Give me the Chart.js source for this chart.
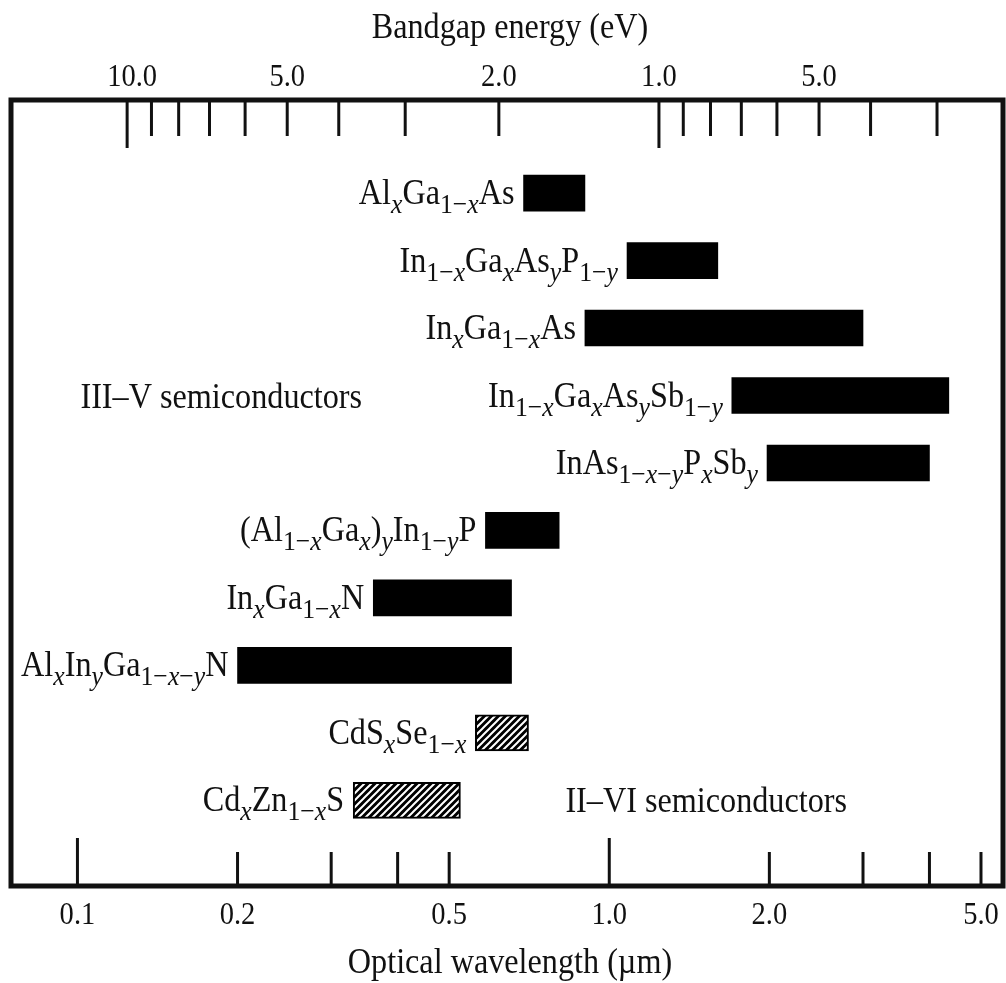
<!DOCTYPE html>
<html lang="en">
<head>
<meta charset="utf-8">
<title>Bandgap energy vs optical wavelength</title>
<script src="https://cdn.jsdelivr.net/npm/chart.js@4.4.1/dist/chart.umd.min.js"></script>
<style>
  html, body { margin: 0; padding: 0; background: #fff; }
  #wrap { width: 1006px; height: 983px; position: relative; }
</style>
</head>
<body>
<div id="wrap"><canvas id="bandgapChart"></canvas></div>
<script>
// --- Données ---
// "_{...}" = indice (x et y en italique)
const materials = [
    'Al_{x}Ga_{1−x}As',
    'In_{1−x}Ga_{x}As_{y}P_{1−y}',
    'In_{x}Ga_{1−x}As',
    'In_{1−x}Ga_{x}As_{y}Sb_{1−y}',
    'InAs_{1−x−y}P_{x}Sb_{y}',
    '(Al_{1−x}Ga_{x})_{y}In_{1−y}P',
    'In_{x}Ga_{1−x}N',
    'Al_{x}In_{y}Ga_{1−x−y}N',
    'CdS_{x}Se_{1−x}',
    'Cd_{x}Zn_{1−x}S'
];
const wavelengthStart = [0.69, 1.08, 0.90, 1.70, 1.98, 0.585, 0.36, 0.20, 0.56, 0.33];
const wavelengthEnd   = [0.90, 1.60, 3.00, 4.35, 4.00, 0.805, 0.655, 0.655, 0.705, 0.525];
const hatched = [false, false, false, false, false, false, false, false, true, true];

const wavelengthTicks = [0.1, 0.2, 0.3, 0.4, 0.5, 1, 2, 3, 4, 5];
const wavelengthLongTicks = [0.1, 1];
const wavelengthLabelValues = [0.1, 0.2, 0.5, 1, 2, 5];
const wavelengthTickLabels = ['0.1', '0.2', '0.5', '1.0', '2.0', '5.0'];

const energyTicks = [10, 9, 8, 7, 6, 5, 4, 3, 2, 1, 0.9, 0.8, 0.7, 0.6, 0.5, 0.4, 0.3];
const energyLongTicks = [10, 1];
const energyLabelValues = [10, 5, 2, 1, 0.5];
const energyTickLabels = ['10.0', '5.0', '2.0', '1.0', '5.0'];

const groupNames = ['III–V semiconductors', 'II–VI semiconductors'];
const groupWavelength = [0.1013, 0.827];
const groupRow = [3, 9];

// --- Constantes ---
const HC = 1.24;              // E (eV) = 1.24 / lambda (µm)
const LAMBDA_MIN = 0.075;
const LAMBDA_MAX = 5.5;
const INK = '#111';
const SERIF = '"Liberation Serif", "DejaVu Serif", serif';
const SQUEEZE = 0.92;         // police un peu condensée comme l'original

// Motif hachuré (II-VI)
function makeHatch() {
    const s = 7;
    const c = document.createElement('canvas');
    c.width = s; c.height = s;
    const g = c.getContext('2d');
    g.fillStyle = '#000';
    g.fillRect(0, 0, s, s);
    g.strokeStyle = '#fff';
    g.lineWidth = 2;
    g.beginPath();
    g.moveTo(-1, s + 1); g.lineTo(s + 1, -1);
    g.moveTo(-1, 1); g.lineTo(1, -1);
    g.moveTo(s - 1, s + 1); g.lineTo(s + 1, s - 1);
    g.stroke();
    return g.createPattern(c, 'repeat');
}
const hatch = makeHatch();

// --- Texte (indices) ---
function parseFormula(str) {
    const runs = [];
    const re = /_\{([^}]*)\}/g;
    let last = 0, m;
    while ((m = re.exec(str))) {
        if (m.index > last) runs.push({ text: str.slice(last, m.index), sub: false });
        for (const ch of m[1]) runs.push({ text: ch, sub: true, italic: /[a-z]/.test(ch) });
        last = re.lastIndex;
    }
    if (last < str.length) runs.push({ text: str.slice(last), sub: false });
    return runs;
}

function runFont(r) {
    if (!r.sub) return '35px ' + SERIF;
    return (r.italic ? 'italic ' : '') + '28px ' + SERIF;
}

function drawFormula(ctx, str, right, baseline) {
    const runs = parseFormula(str);
    let total = 0;
    runs.forEach(r => {
        ctx.font = runFont(r);
        r.w = ctx.measureText(r.text).width * SQUEEZE;
        total += r.w;
    });
    let x = right - total;
    runs.forEach(r => {
        ctx.font = runFont(r);
        drawText(ctx, r.text, x, baseline + (r.sub ? 9 : 0), 'left');
        x += r.w;
    });
}

function drawText(ctx, text, x, y, align) {
    ctx.save();
    ctx.translate(x, y);
    ctx.scale(SQUEEZE, 1);
    ctx.textAlign = align;
    ctx.textBaseline = 'alphabetic';
    ctx.fillText(text, 0, 0);
    ctx.restore();
}

function tick(ctx, x, y0, y1) {
    ctx.beginPath();
    ctx.moveTo(x, y0);
    ctx.lineTo(x, y1);
    ctx.stroke();
}

// --- Plugin : cadre, graduations, libellés ---
const axisDecor = {
    id: 'axisDecor',
    afterDraw(chart) {
        const { ctx, chartArea: area, scales } = chart;
        const xs = scales.x, xt = scales.xTop, ys = scales.y;
        ctx.save();
        ctx.strokeStyle = INK;
        ctx.fillStyle = INK;

        // cadre
        ctx.lineWidth = 5;
        ctx.strokeRect(area.left, area.top, area.right - area.left, area.bottom - area.top);

        // graduations internes
        ctx.lineWidth = 3;
        wavelengthTicks.forEach(v => {
            const x = xs.getPixelForValue(v);
            const len = wavelengthLongTicks.includes(v) ? 48 : 34;
            tick(ctx, x, area.bottom, area.bottom - len);
        });
        energyTicks.forEach(e => {
            const x = xt.getPixelForValue(e);
            const len = energyLongTicks.includes(e) ? 48 : 36;
            tick(ctx, x, area.top, area.top + len);
        });

        // valeurs des axes
        ctx.font = '31px ' + SERIF;
        wavelengthLabelValues.forEach((v, i) => {
            drawText(ctx, wavelengthTickLabels[i], xs.getPixelForValue(v), area.bottom + 38, 'center');
        });
        energyLabelValues.forEach((e, i) => {
            drawText(ctx, energyTickLabels[i], xt.getPixelForValue(e) + (i === 0 ? 5 : 0), area.top - 14, 'center');
        });

        // titres des axes
        ctx.font = '35px ' + SERIF;
        const cx = (area.left + area.right) / 2 + 3;
        drawText(ctx, 'Bandgap energy (eV)', cx, 38, 'center');
        drawText(ctx, 'Optical wavelength (µm)', cx, chart.height - 10, 'center');

        // noms des matériaux, à gauche de chaque barre
        const meta = chart.getDatasetMeta(0);
        meta.data.forEach((bar, i) => {
            const left = Math.min(bar.x, bar.base);
            drawFormula(ctx, materials[i], left - 9, bar.y + 11);
        });

        // familles
        ctx.font = '35px ' + SERIF;
        groupNames.forEach((name, i) => {
            drawText(ctx, name, xs.getPixelForValue(groupWavelength[i]), ys.getPixelForValue(groupRow[i]) + 12, 'left');
        });
        ctx.restore();
    }
};

// --- Graphique ---
const rows = materials.map((_, i) => ({ x: [wavelengthStart[i], wavelengthEnd[i]], y: i }));

new Chart(document.getElementById('bandgapChart'), {
    type: 'bar',
    data: {
        datasets: [{
            data: rows,
            backgroundColor: hatched.map(h => h ? hatch : '#000'),
            borderColor: '#000',
            borderWidth: hatched.map(h => h ? 2 : 0),
            borderSkipped: false,
            barThickness: 36
        }]
    },
    options: {
        indexAxis: 'y',
        responsive: true,
        maintainAspectRatio: false,
        animation: false,
        layout: { padding: { left: 11, right: 3, top: 100, bottom: 97 } },
        plugins: { legend: { display: false }, tooltip: { enabled: false } },
        scales: {
            x: { type: 'logarithmic', min: LAMBDA_MIN, max: LAMBDA_MAX, display: false },
            xTop: { type: 'logarithmic', position: 'top', reverse: true,
                    min: HC / LAMBDA_MAX, max: HC / LAMBDA_MIN, display: false },
            y: { type: 'linear', min: -1.38, max: 10.27, reverse: true, offset: false, display: false }
        }
    },
    plugins: [axisDecor]
});
</script>
</body>
</html>
